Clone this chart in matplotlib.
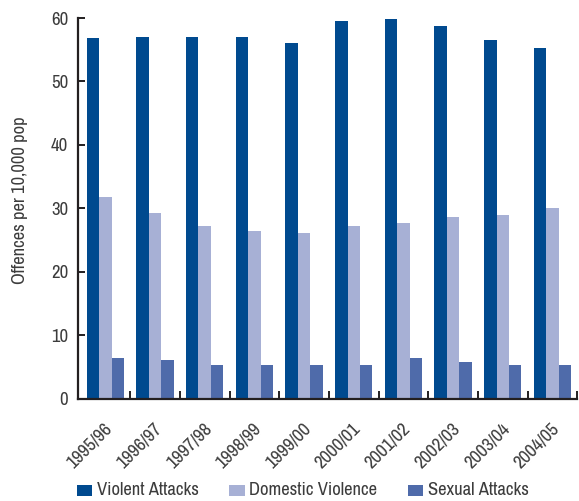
import matplotlib
matplotlib.use("Agg")
import matplotlib.pyplot as plt
import matplotlib.transforms as mtransforms
from matplotlib import font_manager
from matplotlib.font_manager import FontProperties
from matplotlib.textpath import TextPath
from matplotlib.patches import Patch
import numpy as np

# Crime rates per 10,000 population by financial year
years = ["1995/96", "1996/97", "1997/98", "1998/99", "1999/00",
         "2000/01", "2001/02", "2002/03", "2003/04", "2004/05"]
violent_attacks = [56.8, 57.0, 57.0, 57.0, 56.0, 59.5, 59.8, 58.7, 56.5, 55.3]
domestic_violence = [31.7, 29.2, 27.2, 26.4, 26.1, 27.2, 27.6, 28.6, 28.9, 30.0]
sexual_attacks = [6.4, 6.1, 5.3, 5.3, 5.3, 5.3, 6.4, 5.8, 5.3, 5.3]

series_names = ["Violent Attacks", "Domestic Violence", "Sexual Attacks"]
series_colors = ["#004A8F", "#A7B0D5", "#4F6BAA"]


def pick_font():
    """Prefer a regular-weight condensed sans; otherwise a humanist sans."""
    narrow = []
    for f in font_manager.fontManager.ttflist:
        stretch = str(f.stretch).lower()
        name = f.name.lower()
        is_narrow = ("condensed" in stretch or "narrow" in name or "condensed" in name)
        if (is_narrow and "extra" not in stretch and "ultra" not in stretch
                and f.style == "normal" and f.weight in (400, "normal", "regular")
                and "mono" not in name and "serif" not in name.replace("sans serif", "")):
            narrow.append(f)
    if narrow:
        narrow.sort(key=lambda f: (0 if "semi" not in str(f.stretch).lower() else 1, f.name))
        return FontProperties(fname=narrow[0].fname)
    for fam in ["Open Sans", "Noto Sans", "Lato", "DejaVu Sans"]:
        try:
            path = font_manager.findfont(FontProperties(family=fam), fallback_to_default=False)
            return FontProperties(fname=path)
        except Exception:
            continue
    return FontProperties(family="DejaVu Sans")


FONT = pick_font()


def fit_size(text, width_px):
    """Font size in points whose inked width is width_px (at 100 dpi)."""
    ext = TextPath((0, 0), text, size=10, prop=FONT).get_extents()
    return 10 * (width_px * 0.72) / ext.width


def styled(text_artist, size):
    text_artist.set_fontproperties(FONT)
    text_artist.set_fontsize(size)


text_color = "#3C3C3C"
axis_color = "#231F20"
DPI = 100

tick_size = min(fit_size("60", 16.7), 13.5)
year_size = min(fit_size("1995/96", 54), 15)
label_size = min(fit_size("Offences per 10,000 pop", 166), 14)
legend_size = min(fit_size("Violent Attacks", 101), 14)

fig = plt.figure(figsize=(5.79, 5.01), dpi=DPI)
ax = fig.add_axes([78 / 579, 1 - 398.5 / 501, (577.3 - 78) / 579, (398.5 - 18) / 501])

x = np.arange(len(years))
width = 0.25
for i, (vals, color) in enumerate(zip([violent_attacks, domestic_violence, sexual_attacks], series_colors)):
    ax.bar(x + (i - 1) * width, vals, width=width, color=color, linewidth=0)

ax.set_xlim(-0.55, 9.5)
ax.set_ylim(0, 60)
ax.set_yticks(range(0, 61, 10))

for side in ["top", "right"]:
    ax.spines[side].set_visible(False)
for side in ["left", "bottom"]:
    ax.spines[side].set_color(axis_color)
    ax.spines[side].set_linewidth(1.6)

ax.tick_params(axis="y", direction="in", length=5.3, width=1.4, color=axis_color,
               labelcolor=text_color, pad=7)
for lbl in ax.get_yticklabels():
    styled(lbl, tick_size)

# category labels at group centres, divider ticks between groups
ax.set_xticks(x)
ax.tick_params(axis="x", which="major", length=0, labelcolor=text_color, pad=19.5)
ax.set_xticks(x + 0.5, minor=True)
ax.tick_params(axis="x", which="minor", direction="in", length=5.6, width=1.4, color=axis_color)
ax.set_xticklabels(years)
shift = mtransforms.ScaledTranslation(4 / DPI, 0, fig.dpi_scale_trans)
for lbl in ax.get_xticklabels():
    styled(lbl, year_size)
    lbl.set_rotation(45)
    lbl.set_horizontalalignment("right")
    lbl.set_verticalalignment("center")
    lbl.set_rotation_mode("anchor")
    lbl.set_transform(lbl.get_transform() + shift)

ylab = fig.text(20 / 579, 1 - 200 / 501, "Offences per 10,000 pop", rotation=90,
                ha="center", va="center", color=text_color)
styled(ylab, label_size)

px = 0.72 / legend_size  # one pixel in legend font-size units
handles = [Patch(facecolor=c, edgecolor="none") for c in series_colors]
leg = fig.legend(handles, series_names, loc="lower left", bbox_to_anchor=(76.5 / 579, 3 / 501),
                 ncol=3, frameon=False, prop=FONT, labelcolor=text_color,
                 handlelength=21 * px, handleheight=16 * px, handletextpad=6 * px,
                 columnspacing=41 * px, borderaxespad=0, borderpad=0)
for t in leg.get_texts():
    styled(t, legend_size)

fig.savefig("out.png", dpi=DPI)
